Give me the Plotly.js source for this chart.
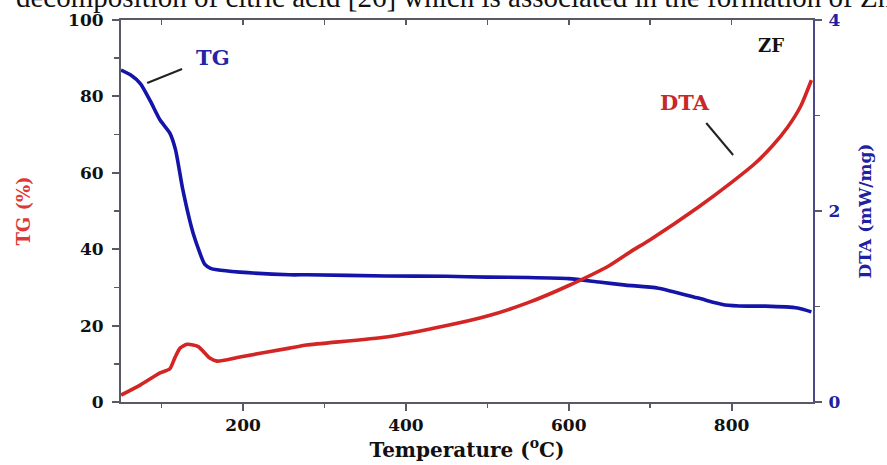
<!DOCTYPE html>
<html>
<head>
<meta charset="utf-8">
<script src="https://cdn.plot.ly/plotly-3.0.1.min.js"></script>
<style>html,body{margin:0;padding:0;background:#fff;}#chart{width:887px;height:465px;}</style>
</head>
<body>
<div id="chart"></div>
<script>
// TG curve (blue), % on left axis
const tgTemp = [50, 62, 74, 86, 98, 110, 117, 126, 138.6, 153, 160, 168, 196, 257, 278, 376, 450, 500, 550, 600, 637, 670, 710, 759, 792, 820, 841, 881, 898];
const tgVal  = [86.9, 85.6, 83.3, 78.8, 73.8, 70.4, 66, 55.5, 44.2, 36, 35, 34.6, 34, 33.3, 33.3, 33, 32.9, 32.7, 32.6, 32.3, 31.4, 30.6, 29.8, 27.2, 25.4, 25.1, 25.1, 24.6, 23.6];
// DTA curve (red), mW/mg on right axis
const dtaTemp = [50, 74, 98, 110, 116.5, 122.6, 131, 137, 145, 159, 168, 196, 257, 278, 376, 450, 500, 550, 600, 650, 677, 700, 759, 800, 829, 850, 869, 885, 898];
const dtaVal  = [0.072, 0.18, 0.304, 0.348, 0.47, 0.564, 0.604, 0.6, 0.58, 0.46, 0.428, 0.472, 0.564, 0.596, 0.68, 0.8, 0.9, 1.04, 1.22, 1.43, 1.58, 1.70, 2.04, 2.30, 2.50, 2.68, 2.88, 3.10, 3.37];

const xRange = [50, 900];
const xTicks = [200, 400, 600, 800];
const yLeftTicks = [0, 20, 40, 60, 80, 100];
const yRightTicks = [0, 2, 4];

const BLUE = '#1414a8';
const RED = '#d42525';
const AX = '#5a5a66';
const serif = 'Liberation Serif, Times New Roman, serif';
const wide = 'DejaVu Serif, serif';

// pixel helpers for annotation placement (plot area: x 121..813, y 20..402)
const px2x = p => 50 + (p - 120.7) / 0.817;
const py2y = p => (402 - p) / 3.82;

const traces = [
  {x: tgTemp, y: tgVal, type: 'scatter', mode: 'lines', line: {color: BLUE, width: 3.6, shape: 'spline', smoothing: 0.6}, xaxis: 'x', yaxis: 'y', hoverinfo: 'skip'},
  {x: dtaTemp, y: dtaVal, type: 'scatter', mode: 'lines', line: {color: RED, width: 3.6, shape: 'spline', smoothing: 0.6}, xaxis: 'x', yaxis: 'y2', hoverinfo: 'skip'},
  {x: xRange, y: [null, null], type: 'scatter', mode: 'lines', xaxis: 'x2', yaxis: 'y', hoverinfo: 'skip', showlegend: false}
];

const tickFont = {family: wide, size: 17, color: '#111', weight: 'bold'};

const layout = {
  width: 887, height: 465,
  margin: {l: 121, r: 74, t: 20, b: 63},
  paper_bgcolor: '#fff', plot_bgcolor: '#fff',
  showlegend: false,
  xaxis: {
    range: xRange, tickvals: xTicks, ticktext: xTicks.map(String),
    ticks: 'outside', ticklen: 7, tickwidth: 2, tickcolor: AX,
    minor: {tickvals: [100, 300, 500, 700], ticks: 'outside', ticklen: 4, tickwidth: 1.5, tickcolor: AX},
    showline: true, linecolor: AX, linewidth: 2, mirror: true,
    showgrid: false, zeroline: false,
    tickfont: tickFont,
    title: {text: 'Temperature (<sup>o</sup>C)', font: {family: wide, size: 20, color: '#111', weight: 'bold'}, standoff: 6}
  },
  xaxis2: {
    range: xRange, overlaying: 'x', side: 'top', anchor: 'y',
    tickvals: [100, 200, 300, 400, 500, 600, 700, 800], ticks: 'inside', ticklen: 5, tickwidth: 1.5, tickcolor: AX,
    showticklabels: false, showline: false, showgrid: false, zeroline: false
  },
  yaxis: {
    range: [0, 100], tickvals: yLeftTicks, ticktext: yLeftTicks.map(String),
    ticks: 'outside', ticklen: 7, tickwidth: 2, tickcolor: AX,
    minor: {tickvals: [10, 30, 50, 70, 90], ticks: 'outside', ticklen: 5, tickwidth: 1.5, tickcolor: AX},
    showline: true, linecolor: AX, linewidth: 2,
    showgrid: false, zeroline: false,
    tickfont: tickFont, ticklabelstandoff: 5,
    title: {text: 'TG (%)', font: {family: wide, size: 18, color: '#e03838', weight: 'bold'}, standoff: 33}
  },
  yaxis2: {
    range: [0, 4], overlaying: 'y', side: 'right', anchor: 'x',
    tickvals: yRightTicks, ticktext: yRightTicks.map(String),
    ticks: 'outside', ticklen: 7, tickwidth: 2, tickcolor: AX,
    minor: {tickvals: [1, 3], ticks: 'outside', ticklen: 5, tickwidth: 1.5, tickcolor: AX},
    showline: true, linecolor: '#4a4a8a', linewidth: 2,
    showgrid: false, zeroline: false,
    tickfont: {family: wide, size: 17, color: '#2020a0', weight: 'bold'}, ticklabelstandoff: 3,
    title: {text: 'DTA (mW/mg)', font: {family: wide, size: 17, color: '#2020a0', weight: 'bold'}, standoff: 20}
  },
  annotations: [
    {xref: 'x', yref: 'y', x: px2x(213), y: py2y(57), text: 'TG', showarrow: false, font: {family: wide, size: 21, color: '#2424a8', weight: 'bold'}},
    {xref: 'x', yref: 'y', x: px2x(687), y: py2y(102), text: 'DTA', showarrow: false, font: {family: wide, size: 21, color: '#c82828', weight: 'bold'}},
    {xref: 'x', yref: 'y', x: px2x(773), y: py2y(45), text: 'ZF', showarrow: false, font: {family: wide, size: 18, color: '#111', weight: 'bold'}},
    {xref: 'paper', yref: 'paper', x: -0.155, y: (402 + 1) / 382, xanchor: 'left', yanchor: 'middle',
     text: 'decomposition of citric acid [26] which is associated in the formation of ZnFe<sub>2</sub>O<sub>4</sub> nanoparticles',
     showarrow: false, font: {family: serif, size: 29, color: '#111'}}
  ],
  shapes: [
    {type: 'line', xref: 'x', yref: 'y', x0: px2x(147), y0: py2y(83), x1: px2x(182), y1: py2y(69), line: {color: '#222', width: 2}},
    {type: 'line', xref: 'x', yref: 'y', x0: px2x(708), y0: py2y(123), x1: px2x(735), y1: py2y(155), line: {color: '#222', width: 2}}
  ]
};

Plotly.newPlot('chart', traces, layout, {staticPlot: true, displayModeBar: false});
</script>
</body>
</html>
